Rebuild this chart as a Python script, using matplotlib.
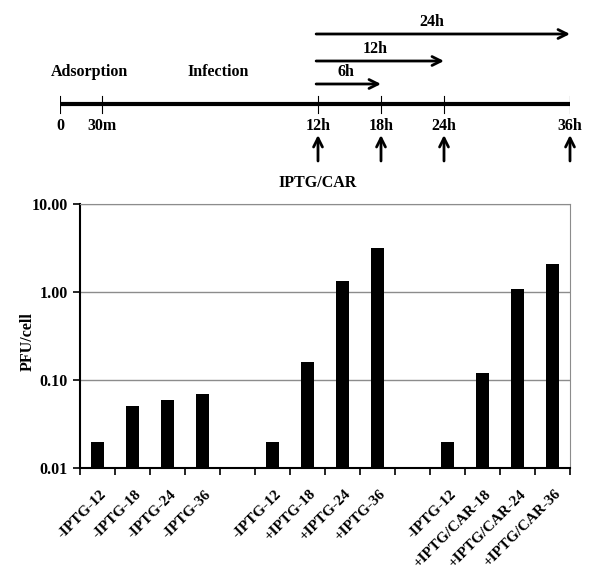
import numpy as np
import matplotlib
matplotlib.use("Agg")
import matplotlib.pyplot as plt
from matplotlib.ticker import FixedLocator, FixedFormatter, NullLocator

plt.rcParams['font.family'] = ['Liberation Serif', 'DejaVu Serif']
plt.rcParams['font.weight'] = 'bold'

# bar chart data
groups = [
    ["-IPTG-12", "-IPTG-18", "-IPTG-24", "-IPTG-36"],
    ["-IPTG-12", "+IPTG-18", "+IPTG-24", "+IPTG-36"],
    ["-IPTG-12", "+IPTG/CAR-18", "+IPTG/CAR-24", "+IPTG/CAR-36"],
]
values = [
    [0.02, 0.05, 0.06, 0.07],
    [0.02, 0.16, 1.35, 3.2],
    [0.02, 0.12, 1.08, 2.1],
]
yticks = [0.01, 0.1, 1, 10]
ytick_labels = ["0.01", "0.10", "1.00", "10.00"]

# timeline data (hours)
tl_hours = [0, 0.5, 12, 18, 24, 36]
tl_labels = ["0", "30m", "12h", "18h", "24h", "36h"]
add_hours = [12, 18, 24, 36]
spans = [(6, "6h"), (12, "12h"), (24, "24h")]
phases = [(0.35, "Adsorption"), (6.7, "Infection")]

FS = 11.5

fig = plt.figure(figsize=(6, 5.75), dpi=100)

# ---- timeline ----
anchor_h = [0, 0.5, 12, 36]
anchor_x = [0, 42, 258, 510]
fwd = lambda h: np.interp(h, anchor_h, anchor_x)
inv = lambda x: np.interp(x, anchor_x, anchor_h)

axt = fig.add_axes([0.1, 1 - 190 / 575, 0.85, 190 / 575])
axt.set_xscale('function', functions=(fwd, inv))
axt.set_xlim(0, 36)
axt.set_ylim(190, 0)
axt.axis('off')

axt.plot([0, 36], [104, 104], color='black', lw=3, solid_capstyle='butt')
for h, lab in zip(tl_hours, tl_labels):
    axt.plot([h, h], [96, 113], color='black', lw=0.8)
    axt.text(h, 126, lab, ha='center', va='center', fontsize=FS)
for h in add_hours:
    axt.annotate("", xy=(h, 135), xytext=(h, 161),
                 arrowprops=dict(arrowstyle='->', lw=2, color='black',
                                 shrinkA=0, shrinkB=0, mutation_scale=16))
axt.text(12, 183, "IPTG/CAR", ha='center', va='center', fontsize=FS)

span_y = {6: 84, 12: 61, 24: 34}
for dur, lab in spans:
    y = span_y[dur]
    axt.annotate("", xy=(12 + dur, y), xytext=(11.9, y),
                 arrowprops=dict(arrowstyle='->', lw=2, color='black',
                                 shrinkA=0, shrinkB=0, mutation_scale=16))
    axt.text(12 + dur * 0.45, y - 12, lab, ha='center', va='center', fontsize=FS)

for h, lab in phases:
    axt.text(h, 72, lab, ha='center', va='center', fontsize=FS)

# ---- bar chart ----
ax = fig.add_axes([80 / 600, 1 - 468 / 575, 490 / 600, 264 / 575])

labels = []
vals = []
for i, (g, v) in enumerate(zip(groups, values)):
    labels += g
    vals += v
    if i < len(groups) - 1:
        labels.append("")
        vals.append(np.nan)
x = np.arange(len(labels))
mask = [lab != "" for lab in labels]

ax.bar(x[mask], np.array(vals)[mask], width=0.38, color='black')
ax.set_yscale('log')
ax.set_ylim(0.01, 10)
ax.set_xlim(-0.5, len(labels) - 0.5)
ax.yaxis.set_major_locator(FixedLocator(yticks))
ax.yaxis.set_major_formatter(FixedFormatter(ytick_labels))
ax.yaxis.set_minor_locator(NullLocator())
ax.yaxis.grid(True, color='#8c8c8c', lw=1)
ax.set_axisbelow(True)

ax.xaxis.set_major_locator(FixedLocator(np.arange(-0.5, len(labels), 1)))
ax.xaxis.set_major_formatter(FixedFormatter([]))
ax.xaxis.set_minor_locator(FixedLocator(x[mask] + 0.05))
ax.xaxis.set_minor_formatter(FixedFormatter([l for l in labels if l]))
ax.tick_params(axis='x', which='major', direction='out', length=5, width=1.2)
ax.tick_params(axis='x', which='minor', length=0, pad=14, labelsize=11)
ax.tick_params(axis='y', direction='out', length=5, width=1.2, labelsize=FS, pad=4)
for t in ax.xaxis.get_minorticklabels():
    t.set_rotation(45)
    t.set_ha('right')
    t.set_rotation_mode('anchor')

ax.spines['left'].set_linewidth(1.5)
ax.spines['bottom'].set_linewidth(1.5)
ax.spines['top'].set_color('#8c8c8c')
ax.spines['right'].set_color('#8c8c8c')
ax.set_ylabel("PFU/cell", fontsize=FS, fontweight='bold')
ax.yaxis.set_label_coords(-0.09, 0.48)

fig.savefig("out.png", dpi=100)
